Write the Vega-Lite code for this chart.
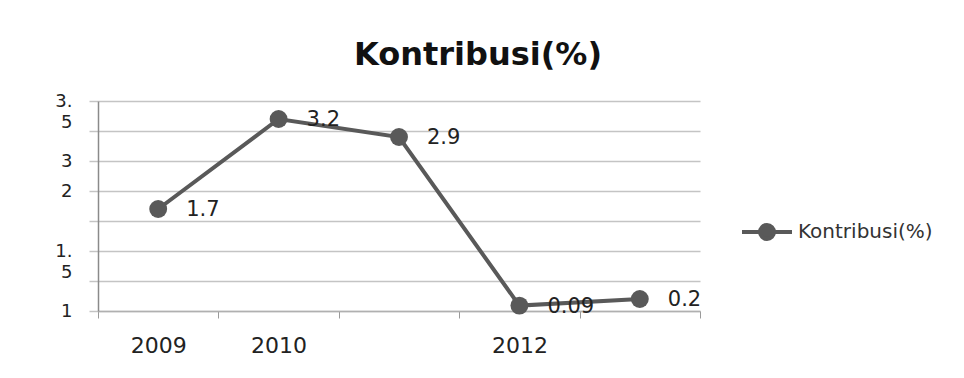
{
  "$schema": "https://vega.github.io/schema/vega-lite/v6.json",
  "width": 602,
  "height": 210,
  "autosize": "none",
  "padding": {"left": 98, "top": 101, "right": 264, "bottom": 67},
  "background": "white",
  "title": {
    "text": "Kontribusi(%)",
    "font": "DejaVu Sans",
    "fontSize": 32,
    "fontWeight": "bold",
    "color": "#111111",
    "anchor": "middle",
    "frame": "group",
    "baseline": "alphabetic",
    "dx": 79,
    "offset": -5
  },
  "config": {"view": {"stroke": null}},
  "data": {
    "values": [
      {"Tahun": "2009", "Kontribusi": 1.7, "series": "Kontribusi(%)"},
      {"Tahun": "2010", "Kontribusi": 3.2, "series": "Kontribusi(%)"},
      {"Tahun": "2011", "Kontribusi": 2.9, "series": "Kontribusi(%)"},
      {"Tahun": "2012", "Kontribusi": 0.09, "series": "Kontribusi(%)"},
      {"Tahun": "2013", "Kontribusi": 0.2, "series": "Kontribusi(%)"}
    ]
  },
  "encoding": {
    "x": {
      "field": "Tahun",
      "type": "ordinal",
      "scale": {"type": "band", "paddingInner": 0, "paddingOuter": 0},
      "axis": {
        "title": null,
        "tickBand": "extent",
        "labelAngle": 0,
        "labelExpr": "datum.value == '2011' || datum.value == '2013' ? '' : datum.value",
        "labelFont": "DejaVu Sans",
        "labelFontSize": 22,
        "labelColor": "#222222",
        "labelPadding": 17,
        "tickSize": 7,
        "tickColor": "#9a9a9a",
        "domainColor": "#b0b0b0",
        "domainWidth": 1.5,
        "grid": false,
        "encode": {"labels": {"update": {"dy": {"signal": "datum.value == '2012' ? 8 : 0"}}}}
      }
    },
    "y": {
      "field": "Kontribusi",
      "type": "quantitative",
      "scale": {"domain": [0, 3.5], "nice": false, "zero": true},
      "axis": {
        "title": null,
        "values": [0, 0.5, 1, 1.5, 2, 2.5, 3, 3.5],
        "grid": true,
        "gridColor": "#c4c4c4",
        "gridWidth": 1.5,
        "tickSize": 9,
        "tickColor": "#c4c4c4",
        "tickWidth": 1.5,
        "domainColor": "#8a8a8a",
        "domainWidth": 1.5,
        "labelExpr": "datum.value == 3.5 ? ['3.', '5'] : datum.value == 2.5 ? '3' : datum.value == 2 ? '2' : datum.value == 1 ? ['1.', '5'] : datum.value == 0 ? '1' : ''",
        "labelAlign": "right",
        "labelBaseline": "middle",
        "labelPadding": 17,
        "labelFont": "DejaVu Sans",
        "labelFontSize": 18,
        "labelColor": "#222222",
        "labelLineHeight": 21,
        "labelFlush": false,
        "labelOverlap": false,
        "labelBound": false,
        "encode": {"labels": {"update": {"dy": {"signal": "datum.value == 3.5 ? 11 : datum.value == 2.5 ? 4 : datum.value == 0 ? 6 : 0"}}}}
      }
    }
  },
  "layer": [
    {
      "mark": {"type": "line", "strokeWidth": 4},
      "encoding": {
        "color": {
          "field": "series",
          "type": "nominal",
          "scale": {"range": ["#595959"]},
          "legend": {
            "title": null,
            "orient": "none",
            "legendX": 642,
            "legendY": 104,
            "symbolType": "M-1,0L1,0M-0.28,0A0.28,0.28,0,1,1,0.28,0A0.28,0.28,0,1,1,-0.28,0Z",
            "symbolSize": 2500,
            "symbolStrokeWidth": 4,
            "symbolStrokeColor": "#595959",
            "symbolFillColor": "#595959",
            "labelFont": "DejaVu Sans",
            "labelFontSize": 20,
            "labelColor": "#333333",
            "labelOffset": 4
          }
        }
      }
    },
    {
      "mark": {"type": "point", "filled": true, "size": 320, "opacity": 1, "color": "#595959"}
    },
    {
      "mark": {"type": "text", "align": "left", "baseline": "middle", "dx": 28, "dy": 1, "font": "DejaVu Sans", "fontSize": 21, "color": "#222222"},
      "encoding": {"text": {"field": "Kontribusi", "type": "nominal"}}
    }
  ]
}
